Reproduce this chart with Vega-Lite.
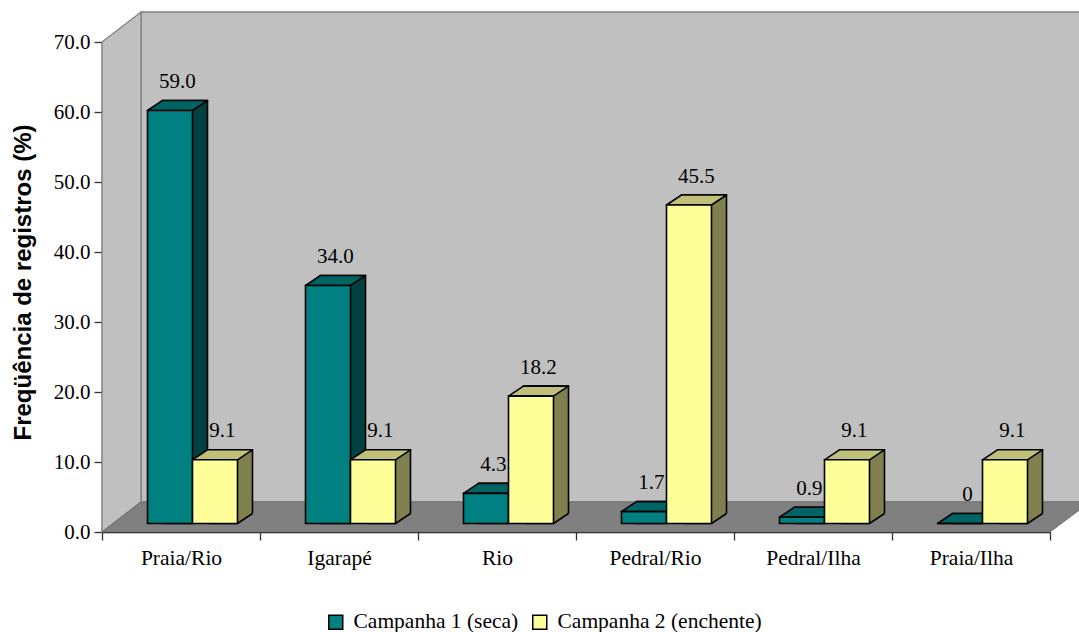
{
  "$schema": "https://vega.github.io/schema/vega-lite/v6.json",
  "width": 948,
  "height": 490,
  "autosize": {"type": "none"},
  "padding": {"left": 102, "top": 42, "right": 29, "bottom": 100},
  "background": "white",
  "config": {
    "view": {"stroke": null},
    "font": "Liberation Serif",
    "axis": {"grid": false, "labelColor": "black", "labelFont": "Liberation Serif", "labelFontSize": 21, "tickColor": "#333333", "domainColor": "#333333", "domainWidth": 1.5, "tickWidth": 1.3}
  },
  "resolve": {"scale": {"xOffset": "independent"}},
  "datasets": {
    "registros": [
      {"local": "Praia/Rio", "campanha": "Campanha 1 (seca)", "valor": 59.0},
      {"local": "Praia/Rio", "campanha": "Campanha 2 (enchente)", "valor": 9.1},
      {"local": "Igarapé", "campanha": "Campanha 1 (seca)", "valor": 34.0},
      {"local": "Igarapé", "campanha": "Campanha 2 (enchente)", "valor": 9.1},
      {"local": "Rio", "campanha": "Campanha 1 (seca)", "valor": 4.3},
      {"local": "Rio", "campanha": "Campanha 2 (enchente)", "valor": 18.2},
      {"local": "Pedral/Rio", "campanha": "Campanha 1 (seca)", "valor": 1.7},
      {"local": "Pedral/Rio", "campanha": "Campanha 2 (enchente)", "valor": 45.5},
      {"local": "Pedral/Ilha", "campanha": "Campanha 1 (seca)", "valor": 0.9},
      {"local": "Pedral/Ilha", "campanha": "Campanha 2 (enchente)", "valor": 9.1},
      {"local": "Praia/Ilha", "campanha": "Campanha 1 (seca)", "valor": 0},
      {"local": "Praia/Ilha", "campanha": "Campanha 2 (enchente)", "valor": 9.1}
    ],
    "moldura": [{}]
  },
  "layer": [
    {
      "data": {"name": "moldura"},
      "mark": {"type": "point", "filled": true, "opacity": 1, "size": 4, "fill": "#C0C0C0", "stroke": "#808080", "strokeWidth": 1.3,
               "shape": "M39,-30 L1000,-30 L1000,-520 L39,-520 Z"},
      "encoding": {"x": {"value": 0}, "y": {"datum": 0, "type": "quantitative"}}
    },
    {
      "data": {"name": "moldura"},
      "mark": {"type": "point", "filled": true, "opacity": 1, "size": 4, "fill": "#C0C0C0", "stroke": "#808080", "strokeWidth": 1.3,
               "shape": "M0,0 L0,-490 L39,-520 L39,-30 Z"},
      "encoding": {"x": {"value": 0}, "y": {"datum": 0, "type": "quantitative"}}
    },
    {
      "data": {"name": "moldura"},
      "mark": {"type": "point", "filled": true, "opacity": 1, "size": 4, "fill": "#808080", "stroke": "#707070", "strokeWidth": 1,
               "shape": "M0,0 L948,0 L988,-30 L39,-30 Z"},
      "encoding": {"x": {"value": 0}, "y": {"datum": 0, "type": "quantitative"}}
    },
    {
      "data": {"name": "registros"},
      "mark": {"type": "bar", "yOffset": -18.5, "y2Offset": -8.5, "stroke": "black", "strokeWidth": 1.6, "opacity": 1},
      "encoding": {
        "x": {"field": "local", "type": "nominal", "sort": null, "scale": {"paddingInner": 0, "paddingOuter": 0},
              "axis": {"title": null, "tickBand": "extent", "tickSize": 8, "labelPadding": 7, "labelAngle": 0, "labelFontSize": 21.5, "domainColor": "black"}},
        "xOffset": {"field": "campanha", "type": "nominal", "sort": null, "scale": {"type": "band", "paddingInner": 0, "paddingOuter": 0.7556, "align": 0.8897}},
        "y": {"field": "valor", "type": "quantitative", "scale": {"domain": [0, 70], "nice": false},
              "axis": {"values": [0, 10, 20, 30, 40, 50, 60, 70], "format": ".1f", "tickSize": 8, "labelPadding": 4,
                       "title": "Freqüência de registros (%)", "titleFont": "Liberation Sans", "titleFontWeight": "bold", "titleFontSize": 24,
                       "titleColor": "black", "titleX": -79, "titleY": 240, "titleAngle": -90, "titleBaseline": "middle", "titleAlign": "center"}},
        "y2": {"datum": 0},
        "fill": {"condition": {"test": "datum.campanha === 'Campanha 1 (seca)'", "value": "#004040"}, "value": "#80804E"}
      }
    },
    {
      "data": {"name": "registros"},
      "mark": {"type": "point", "filled": true, "opacity": 1, "size": 4, "yOffset": -8.5, "fill": "#808080", "strokeWidth": 0,
               "shape": "M22.5,0 L37.5,-10 L39.5,-10 L39.5,2 L22.5,2 Z"},
      "encoding": {
        "x": {"field": "local", "type": "nominal", "sort": null},
        "xOffset": {"field": "campanha", "type": "nominal", "sort": null, "scale": {"type": "band", "paddingInner": 0, "paddingOuter": 0.7556, "align": 0.669}},
        "y": {"datum": 0, "type": "quantitative"}
      }
    },
    {
      "data": {"name": "registros"},
      "mark": {"type": "point", "filled": false, "opacity": 1, "size": 4, "yOffset": -8.5, "stroke": "black", "strokeWidth": 1.6,
               "shape": "M22.5,0 L37.5,-10"},
      "encoding": {
        "x": {"field": "local", "type": "nominal", "sort": null},
        "xOffset": {"field": "campanha", "type": "nominal", "sort": null, "scale": {"type": "band", "paddingInner": 0, "paddingOuter": 0.7556, "align": 0.669}},
        "y": {"datum": 0, "type": "quantitative"}
      }
    },
    {
      "data": {"name": "registros"},
      "mark": {"type": "point", "filled": true, "opacity": 1, "size": 4, "yOffset": -8.5, "stroke": "black", "strokeWidth": 1.6,
               "strokeJoin": "round", "shape": "M-22.5,0 L22.5,0 L37.5,-10 L-7.5,-10 Z"},
      "encoding": {
        "x": {"field": "local", "type": "nominal", "sort": null},
        "xOffset": {"field": "campanha", "type": "nominal", "sort": null, "scale": {"type": "band", "paddingInner": 0, "paddingOuter": 0.7556, "align": 0.669}},
        "y": {"field": "valor", "type": "quantitative"},
        "fill": {"condition": {"test": "datum.campanha === 'Campanha 1 (seca)'", "value": "#006464"}, "value": "#C0C07A"}
      }
    },
    {
      "data": {"name": "registros"},
      "mark": {"type": "bar", "yOffset": -8.5, "y2Offset": -8.5, "stroke": "black", "strokeWidth": 1.6, "opacity": 1},
      "encoding": {
        "x": {"field": "local", "type": "nominal", "sort": null},
        "xOffset": {"field": "campanha", "type": "nominal", "sort": null, "scale": {"type": "band", "paddingInner": 0, "paddingOuter": 0.7556, "align": 0.669}},
        "y": {"field": "valor", "type": "quantitative"},
        "y2": {"datum": 0},
        "color": {"field": "campanha", "type": "nominal", "sort": null,
                  "scale": {"domain": ["Campanha 1 (seca)", "Campanha 2 (enchente)"], "range": ["#008080", "#FFFF99"]},
                  "legend": {"title": null, "orient": "none", "legendX": 223, "legendY": 569, "direction": "horizontal",
                             "symbolType": "square", "symbolSize": 196, "symbolStrokeColor": "black", "symbolStrokeWidth": 1.5,
                             "symbolOpacity": 1, "labelFont": "Liberation Serif", "labelFontSize": 21.5, "labelColor": "black",
                             "labelOffset": 7, "columnPadding": 10, "labelLimit": 400}}
      }
    },
    {
      "data": {"name": "registros"},
      "mark": {"type": "text", "font": "Liberation Serif", "fontSize": 21, "color": "black", "baseline": "alphabetic",
               "align": "center", "dx": 7.5, "yOffset": -31},
      "encoding": {
        "x": {"field": "local", "type": "nominal", "sort": null},
        "xOffset": {"field": "campanha", "type": "nominal", "sort": null, "scale": {"type": "band", "paddingInner": 0, "paddingOuter": 0.7556, "align": 0.669}},
        "y": {"field": "valor", "type": "quantitative"},
        "text": {"condition": {"test": "datum.valor === 0", "value": "0"}, "field": "valor", "type": "quantitative", "format": ".1f"}
      }
    }
  ]
}
